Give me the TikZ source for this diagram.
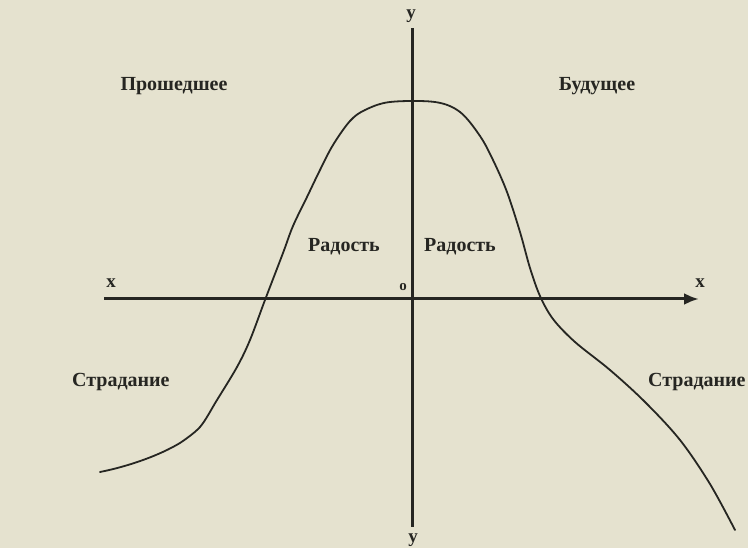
\documentclass[tikz,border=0pt]{standalone}
\usepackage{fontspec}
\setmainfont{Liberation Serif}
\usetikzlibrary{arrows.meta}
\definecolor{paper}{RGB}{229,226,207}
\definecolor{ink}{RGB}{38,38,34}
\tikzset{
  lbl/.style={font=\fontsize{20}{22}\selectfont\bfseries, text=ink, inner sep=0pt},
  axlbl/.style={font=\fontsize{19}{21}\selectfont\bfseries, text=ink, inner sep=0pt},
  axis/.style={draw=ink, line width=3pt},
  curve/.style={draw=ink, line width=1.8pt, line join=round, line cap=round}
}
\begin{document}
\begin{tikzpicture}[x=1pt,y=-1pt]
\fill[paper] (0,0) rectangle (748,548);
\useasboundingbox (0,0) rectangle (748,548);
% axes
\coordinate (xl) at (104,299);
\coordinate (xr) at (699,299);
\coordinate (yt) at (412,28);
\coordinate (yb) at (412,527);
\draw[axis, -{Latex[length=15pt,width=12pt]}] (xl) -- (xr);
\draw[axis] (yt) -- (yb);
\node[axlbl] (xL) at (111,283) {x};
\node[axlbl] (xR) at (700,283) {x};
\node[axlbl] (yT) at (411,16) {y};
\node[axlbl] (yB) at (413,540) {y};
\node[axlbl, font=\fontsize{15}{17}\selectfont\bfseries] (o) at (403,287) {o};
% curve
\draw[curve] (100,472) .. controls (130,466) and (160,455) .. (180,443);
\draw[curve] plot[smooth, tension=0.55] coordinates {
 (180,443) (200,427) (217,400) (237,367) (250,340) (265,300) (283,253)
 (293,226) (307,197) (320,170) (333,145) (350,121) (365,110) (390,102)
 (435,102) (460,112) (480,136) (493,160) (507,192) (520,232) (530,268)
 (540,296) (553,319) (575,342) (610,370) (645,402) (680,440) (710,484) (735,530)};
% labels
\node[lbl] (past) at (174,86) {Прошедшее};
\node[lbl] (fut) at (597,86) {Будущее};
\node[lbl] (joyL) at (344,247) {Радость};
\node[lbl] (joyR) at (460,247) {Радость};
\node[lbl, anchor=west] (sufL) at (72,382) {Страдание};
\node[lbl, anchor=west] (sufR) at (648,382) {Страдание};
\end{tikzpicture}
\end{document}
